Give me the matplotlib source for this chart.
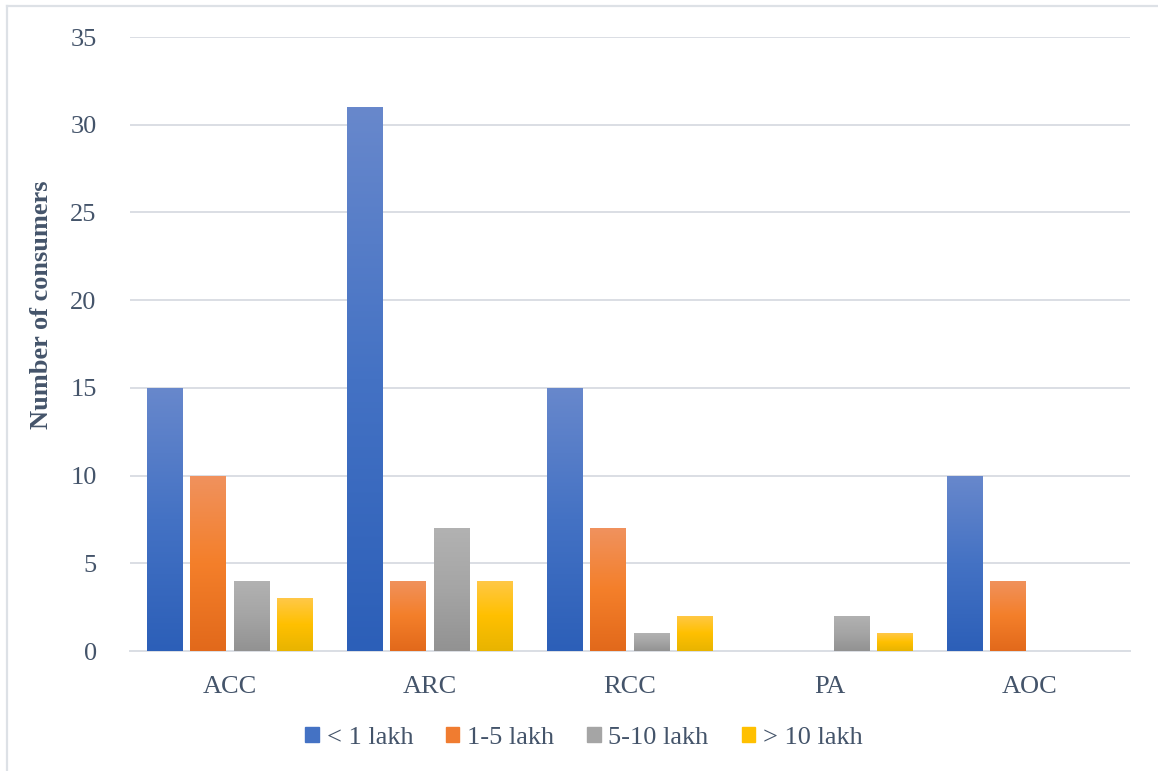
import matplotlib
matplotlib.use("Agg")
import matplotlib.pyplot as plt
import numpy as np
from matplotlib.colors import LinearSegmentedColormap
from matplotlib.lines import Line2D
from matplotlib.patches import Rectangle

categories = ["ACC", "ARC", "RCC", "PA", "AOC"]
series_names = ["< 1 lakh", "1-5 lakh", "5-10 lakh", "> 10 lakh"]
lt1 = [15, 31, 15, 0, 10]
l1_5 = [10, 4, 7, 0, 4]
l5_10 = [4, 7, 1, 2, 0]
gt10 = [3, 4, 2, 1, 0]
yticks = [0, 5, 10, 15, 20, 25, 30, 35]

series = [lt1, l1_5, l5_10, gt10]
# gradient stops: bottom, middle, top
grads = [
    ["#2C5FB8", "#4472C4", "#6888CC"],
    ["#E2691B", "#F47F2A", "#F0925E"],
    ["#929292", "#A5A5A5", "#B2B2B2"],
    ["#E8B400", "#FFC000", "#FFC848"],
]
legend_cols = ["#4472C4", "#F07C30", "#A5A5A5", "#FFC000"]

text_col = "#44546A"
grid_col = "#DADEE4"

plt.rcParams['font.family'] = ['Liberation Serif', 'DejaVu Serif']

fig = plt.figure(figsize=(11.58, 7.71), dpi=100)
ax = fig.add_axes([130/1158, 1 - 651/771, 1000/1158, 614/771])

x = np.arange(len(categories))
width = 0.18
step = 0.218
offsets = [-1.5*step, -0.5*step, 0.5*step, 1.5*step]

grad_img = np.linspace(0, 1, 256).reshape(-1, 1)
for vals, off, g, name, lc in zip(series, offsets, grads, series_names, legend_cols):
    cmap = LinearSegmentedColormap.from_list(name, g)
    bars = ax.bar(x + off, vals, width, color=lc, zorder=3, label=name)
    for b in bars:
        h = b.get_height()
        if h <= 0:
            b.set_visible(False)
            continue
        b.set_alpha(0)
        x0 = b.get_x()
        im = ax.imshow(grad_img, cmap=cmap, origin="lower", aspect="auto",
                       extent=[x0, x0 + b.get_width(), 0, h], zorder=4,
                       interpolation="bilinear")
        clip = Rectangle((x0, 0), b.get_width(), h, transform=ax.transData)
        im.set_clip_path(clip)

ax.set_xlim(-0.5, 4.5)
ax.set_ylim(0, 35)
ax.set_yticks(yticks)
ax.set_xticks(x)
ax.set_xticklabels(categories)
ax.yaxis.grid(True, color=grid_col, linewidth=1.4, zorder=0)
ax.set_axisbelow(True)
for s in ["top", "right", "left"]:
    ax.spines[s].set_visible(False)
ax.spines["bottom"].set_color(grid_col)
ax.spines["bottom"].set_linewidth(1.4)
ax.tick_params(axis="both", length=0, labelsize=19, colors=text_col)
ax.tick_params(axis="y", pad=24)
ax.tick_params(axis="x", pad=18)

fig.text(42/1158, 1 - 305/771, "Number of consumers", rotation=90, ha="center",
         va="center", fontsize=19, fontweight="bold", color=text_col)

handles = [Rectangle((0, 0), 1, 1, color=c) for c in legend_cols]
leg = fig.legend(handles, series_names, loc="center", ncol=4,
                 bbox_to_anchor=(584/1158, 1 - 738/771), frameon=False,
                 fontsize=19, handlelength=0.5, handleheight=0.5,
                 handletextpad=0.3, columnspacing=1.25, labelcolor=text_col)

fig.add_artist(Line2D([7/1158, 1], [1 - 6/771, 1 - 6/771], color="#DDE1E6",
                      linewidth=1.6, transform=fig.transFigure))
fig.add_artist(Line2D([7/1158, 7/1158], [0, 1 - 6/771], color="#DDE1E6",
                      linewidth=1.6, transform=fig.transFigure))

fig.savefig("out.png", dpi=100)
